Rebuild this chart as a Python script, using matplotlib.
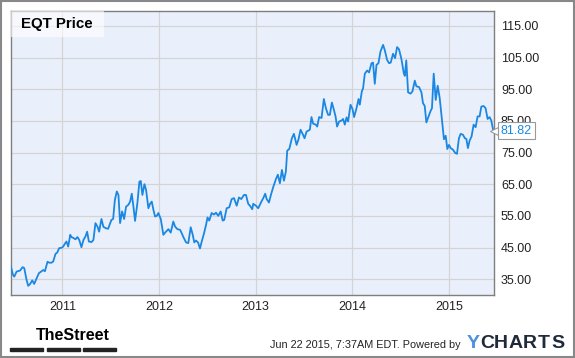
import matplotlib.pyplot as plt
from matplotlib.patches import Rectangle
from matplotlib.ticker import FormatStrFormatter

# EQT weekly price (time as decimal year)
anos = [2010.467, 2010.487, 2010.501, 2010.525, 2010.560, 2010.587, 2010.604, 2010.628,
        2010.645, 2010.663, 2010.687, 2010.707, 2010.756, 2010.783, 2010.801, 2010.818,
        2010.845, 2010.863, 2010.886, 2010.904, 2010.928, 2010.945, 2010.966, 2010.990,
        2011.007, 2011.025, 2011.041, 2011.059, 2011.080, 2011.093, 2011.114, 2011.134,
        2011.155, 2011.173, 2011.196, 2011.217, 2011.238, 2011.255, 2011.273, 2011.300,
        2011.320, 2011.341, 2011.362, 2011.379, 2011.403, 2011.424, 2011.449, 2011.472,
        2011.490, 2011.506, 2011.524, 2011.542, 2011.562, 2011.579, 2011.596, 2011.617,
        2011.638, 2011.658, 2011.682, 2011.700, 2011.717, 2011.734, 2011.751, 2011.775,
        2011.796, 2011.810, 2011.827, 2011.848, 2011.865, 2011.889, 2011.906, 2011.924,
        2011.941, 2011.958, 2011.976, 2011.992, 2012.017, 2012.044, 2012.062, 2012.096,
        2012.120, 2012.147, 2012.165, 2012.189, 2012.217, 2012.234, 2012.251, 2012.279,
        2012.302, 2012.327, 2012.348, 2012.364, 2012.382, 2012.403, 2012.423, 2012.441,
        2012.465, 2012.486, 2012.501, 2012.519, 2012.544, 2012.568, 2012.589, 2012.612,
        2012.637, 2012.658, 2012.674, 2012.699, 2012.726, 2012.751, 2012.775, 2012.803,
        2012.826, 2012.850, 2012.878, 2012.899, 2012.922, 2012.940, 2012.964, 2012.974,
        2013.002, 2013.026, 2013.054, 2013.078, 2013.098, 2013.113, 2013.137, 2013.157,
        2013.181, 2013.209, 2013.229, 2013.250, 2013.271, 2013.292, 2013.312, 2013.326,
        2013.347, 2013.374, 2013.395, 2013.423, 2013.443, 2013.464, 2013.485, 2013.505,
        2013.526, 2013.550, 2013.560, 2013.577, 2013.594, 2013.622, 2013.636, 2013.656,
        2013.681, 2013.705, 2013.726, 2013.749, 2013.767, 2013.788, 2013.809, 2013.826,
        2013.842, 2013.863, 2013.888, 2013.904, 2013.922, 2013.940, 2013.956, 2013.981,
        2014.002, 2014.018, 2014.043, 2014.064, 2014.077, 2014.098, 2014.111, 2014.129,
        2014.153, 2014.173, 2014.198, 2014.214, 2014.232, 2014.250, 2014.270, 2014.291,
        2014.318, 2014.335, 2014.359, 2014.380, 2014.397, 2014.421, 2014.442, 2014.463,
        2014.483, 2014.508, 2014.532, 2014.543, 2014.558, 2014.577, 2014.601, 2014.622,
        2014.646, 2014.663, 2014.690, 2014.715, 2014.731, 2014.749, 2014.766, 2014.783,
        2014.808, 2014.824, 2014.842, 2014.863, 2014.883, 2014.904, 2014.924, 2014.948,
        2014.966, 2014.983, 2015.000, 2015.018, 2015.041, 2015.066, 2015.083, 2015.103,
        2015.121, 2015.145, 2015.165, 2015.180, 2015.196, 2015.214, 2015.234, 2015.255,
        2015.276, 2015.296, 2015.317, 2015.335, 2015.358, 2015.379, 2015.400, 2015.420,
        2015.438, 2015.455, 2015.466]
precos = [38.8, 36.4, 35.8, 37.4, 37.7, 38.8, 38.5, 34.8,
          32.9, 33.4, 34.6, 33.5, 36.9, 37.5, 37.9, 37.5,
          40.5, 40.2, 40.2, 40.6, 43.0, 43.4, 44.8, 44.9,
          45.3, 46.2, 46.9, 45.3, 49.0, 48.3, 48.0, 47.6,
          48.3, 47.4, 45.1, 47.4, 48.5, 50.0, 46.9, 46.7,
          47.4, 52.7, 51.6, 50.0, 54.0, 51.5, 51.1, 50.9,
          52.4, 53.7, 54.0, 60.0, 62.7, 61.6, 52.7, 56.4,
          54.0, 57.9, 58.5, 59.5, 62.0, 57.9, 53.4, 59.0,
          65.8, 66.0, 61.6, 65.0, 63.2, 57.4, 58.8, 59.5,
          56.9, 54.8, 55.0, 55.9, 54.0, 49.0, 49.7, 50.8,
          49.7, 53.2, 51.6, 50.8, 50.6, 49.5, 48.3, 46.6,
          46.4, 51.4, 49.0, 46.6, 47.2, 46.6, 44.7, 46.9,
          49.5, 52.2, 54.5, 53.5, 55.9, 55.4, 56.0, 55.0,
          56.4, 53.5, 53.7, 57.4, 57.7, 60.3, 60.6, 58.2,
          60.8, 60.3, 61.6, 61.6, 58.8, 58.2, 57.1, 58.8,
          58.2, 57.4, 59.2, 60.6, 62.0, 60.3, 59.2, 61.6,
          64.1, 66.6, 68.0, 65.3, 69.5, 66.1, 69.0, 75.6,
          76.1, 79.5, 80.9, 77.4, 79.2, 82.2, 80.9, 79.5,
          81.6, 82.0, 82.2, 86.2, 84.1, 83.8, 83.2, 86.2,
          85.9, 91.9, 89.0, 86.9, 86.9, 90.8, 88.5, 86.4,
          83.2, 84.8, 85.1, 85.6, 83.8, 86.1, 84.8, 90.1,
          88.7, 86.2, 89.0, 91.9, 90.1, 94.3, 95.3, 99.9,
          100.9, 100.3, 103.2, 103.4, 96.7, 102.7, 103.2, 106.9,
          109.0, 107.4, 104.3, 103.2, 103.4, 106.2, 104.8, 108.3,
          107.6, 104.5, 100.1, 99.2, 104.1, 94.0, 93.6, 94.3,
          97.7, 95.9, 95.7, 94.0, 90.6, 89.7, 84.5, 85.9,
          88.0, 89.0, 99.9, 91.6, 96.1, 92.2, 86.4, 79.2,
          80.3, 76.1, 77.4, 76.4, 75.9, 74.8, 74.6, 79.5,
          80.9, 80.6, 79.5, 79.3, 76.4, 78.8, 80.1, 83.8,
          83.0, 86.4, 86.4, 89.5, 89.7, 89.0, 85.6, 86.2,
          85.1, 82.4, 81.82]

anos_ticks = [2011, 2012, 2013, 2014, 2015]
precos_ticks = [35, 45, 55, 65, 75, 85, 95, 105, 115]

plt.rcParams['font.family'] = ['Liberation Sans', 'DejaVu Sans']

fig = plt.figure(figsize=(5.75, 3.58), dpi=100, facecolor='white')
ax = fig.add_axes([11/575, 63/358, 483/575, 284/358])
ax.set_facecolor('#eaf0fb')

ax.plot(anos, precos, color='#1a87e3', linewidth=1.3, zorder=3)

ax.set_xlim(2010.467, 2015.466)
ax.set_ylim(30.0, 119.7)
ax.set_xticks(anos_ticks)
ax.set_xticklabels([str(a) for a in anos_ticks])
ax.set_yticks(precos_ticks)
ax.yaxis.set_major_formatter(FormatStrFormatter('%.2f'))
ax.yaxis.tick_right()
ax.tick_params(axis='both', length=0, labelsize=9, labelcolor='#222222')
ax.tick_params(axis='y', pad=5)
ax.tick_params(axis='x', pad=4)
ax.grid(True, color='#d4d4d4', linewidth=0.9)
ax.set_axisbelow(True)
for s in ax.spines.values():
    s.set_color('#7f7f7f')
    s.set_linewidth(1.0)

# Titulo no canto (caixa branca semi-transparente)
fig.patches.append(Rectangle((11/575, 1 - 37/358), 93/575, 26/358, transform=fig.transFigure,
                             fc='white', ec='none', alpha=0.6, zorder=5))
fig.text(21/575, 1 - 24/358, 'EQT Price', fontsize=10.8, fontweight='bold', color='black',
         ha='left', va='center', zorder=6)

# Ultimo valor
ult = precos[-1]
ax.plot([1.0], [ult], marker='<', markersize=6, color='white', markeredgecolor='#999999',
        markeredgewidth=0.8, transform=ax.get_yaxis_transform(), clip_on=False, zorder=4)
ax.annotate(f'{ult:.2f}', xy=(1.0, ult), xycoords=('axes fraction', 'data'),
            xytext=(5, 0), textcoords='offset points', ha='left', va='center',
            fontsize=9, color='#1a87e3', annotation_clip=False, zorder=5,
            bbox=dict(boxstyle='square,pad=0.2', fc='white', ec='#999999', lw=0.8))

# Rodape
fig.text(36/575, 1 - 336/358, 'TheStreet', fontsize=11.5, fontweight='bold',
         family=['Liberation Sans Narrow', 'Liberation Sans'], va='center', ha='left')
for x0 in [10, 47, 83]:
    fig.patches.append(Rectangle((x0/575, 1 - 351/358), 33/575, 3.5/358,
                                 transform=fig.transFigure, color='#222222'))
fig.text(270/575, 1 - 345/358, 'Jun 22 2015, 7:37AM EDT. Powered by', fontsize=7.8,
         color='#222222', va='center', ha='left')
for i, letra in enumerate('YCHARTS'):
    fig.text((473 + i*14.1)/575, 1 - 344/358, letra, fontsize=14, fontweight='bold',
             color='#4a8fe0' if letra == 'Y' else '#1f2a3a', va='center', ha='center')

# Borda externa
fig.patches.append(Rectangle((0.001, 0.002), 0.997, 0.996, transform=fig.transFigure,
                             fill=False, ec='#888888', lw=1.5))

plt.savefig('out.png', dpi=100, facecolor='white')
